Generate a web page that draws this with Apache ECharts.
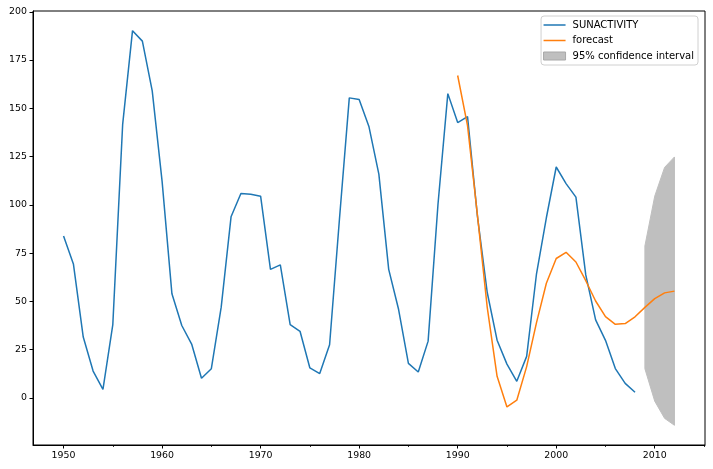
<!DOCTYPE html>
<html><head><meta charset="utf-8">
<script src="https://cdn.jsdelivr.net/npm/echarts@6/dist/echarts.min.js"></script>
<style>html,body{margin:0;padding:0;background:#fff}#c{width:713px;height:469px}</style>
</head><body><div id="c"></div>
<script>
const years = [1950,1951,1952,1953,1954,1955,1956,1957,1958,1959,1960,1961,1962,1963,1964,1965,1966,1967,1968,1969,1970,1971,1972,1973,1974,1975,1976,1977,1978,1979,1980,1981,1982,1983,1984,1985,1986,1987,1988,1989,1990,1991,1992,1993,1994,1995,1996,1997,1998,1999,2000,2001,2002,2003,2004,2005,2006,2007,2008];
const sunactivity = [83.9,69.4,31.5,13.9,4.4,38.0,141.7,190.2,184.8,159.0,112.3,53.9,37.5,27.9,10.2,15.1,47.0,93.8,105.9,105.5,104.5,66.6,68.9,38.0,34.5,15.5,12.6,27.5,92.5,155.4,154.6,140.4,115.9,66.6,45.9,17.9,13.4,29.4,100.2,157.6,142.6,145.7,94.3,54.6,29.9,17.5,8.6,21.5,64.3,93.3,119.6,111.0,104.0,63.7,40.4,29.8,15.2,7.5,2.9];
const forecastYears = [1990,1991,1992,1993,1994,1995,1996,1997,1998,1999,2000,2001,2002,2003,2004,2005,2006,2007,2008,2009,2010,2011,2012];
const forecast = [167.0,141.0,94.9,46.9,11.2,-4.7,-1.2,16.2,39.0,59.4,72.2,75.4,70.4,60.7,50.2,42.1,38.1,38.5,42.0,46.9,51.4,54.4,55.3];
const ciYears = [2009,2010,2011,2012];
const ciLower = [15.1,-1.7,-10.6,-14.2];
const ciUpper = [78.7,104.5,119.4,124.8];
const xTicks = [1950,1960,1970,1980,1990,2000,2010];
const xMinorTicks = [1955,1965,1975,1985,1995,2005,2015];
const yTicks = [0,25,50,75,100,125,150,175,200];

const font = 'DejaVu Sans';
const pair = (xs, ys) => xs.map((x, i) => [x, ys[i]]);
const xMin = 1946.9, xMax = 2015.1, yMin = -24.4, yMax = 200.4;
const lineIcon = 'path://M0,0 L0,0 M0,3.25 L22,3.25 L22,4.75 L0,4.75 Z M22,8 L22,8';

const chart = echarts.init(document.getElementById('c'), null, {renderer: 'canvas'});
chart.setOption({
  animation: false,
  backgroundColor: '#fff',
  grid: {left: 33, right: 8, top: 11, bottom: 24, show: true, borderColor: '#000', borderWidth: 1, backgroundColor: 'transparent'},
  legend: {
    orient: 'vertical', right: 15, top: 16,
    backgroundColor: '#fff', borderColor: '#d0d0d0', borderWidth: 1, borderRadius: 3,
    padding: [4, 4, 4, 2], itemGap: 5.5, itemWidth: 22, itemHeight: 8,
    textStyle: {fontFamily: font, fontSize: 10, color: '#000', padding: [0, 0, 0, 2]},
    data: [
      {name: 'SUNACTIVITY', icon: lineIcon, itemStyle: {color: '#1f77b4'}},
      {name: 'forecast', icon: lineIcon, itemStyle: {color: '#ff7f0e'}},
      {name: '95% confidence interval', icon: 'rect', itemStyle: {color: '#bfbfbf', borderColor: '#a8a8a8', borderWidth: 1}}
    ]
  },
  xAxis: [{
    type: 'value', min: xMin, max: xMax,
    splitLine: {show: false},
    axisLine: {show: true, onZero: false, lineStyle: {color: '#000', width: 1}},
    axisTick: {show: true, length: 3.5, customValues: xTicks, lineStyle: {color: '#000'}},
    axisLabel: {customValues: xTicks, margin: 6, fontFamily: font, fontSize: 9.4, color: '#000', formatter: v => String(v)}
  }, {
    type: 'value', min: xMin, max: xMax, position: 'bottom', gridIndex: 0,
    splitLine: {show: false},
    axisLine: {show: false, onZero: false},
    axisTick: {show: true, length: 2, customValues: xMinorTicks, lineStyle: {color: '#000', width: 0.8}},
    axisLabel: {show: false}
  }],
  yAxis: {
    type: 'value', min: yMin, max: yMax,
    splitLine: {show: false},
    axisLine: {show: true, onZero: false, lineStyle: {color: '#000', width: 1}},
    axisTick: {show: true, length: 3.5, customValues: yTicks, lineStyle: {color: '#000'}},
    axisLabel: {customValues: yTicks, margin: 6, fontFamily: font, fontSize: 9.4, color: '#000', formatter: v => String(v)}
  },
  series: [
    {name: '95% confidence interval', type: 'custom', z: 1,
      itemStyle: {color: '#bfbfbf'},
      data: ciYears.map((x, i) => [x, ciLower[i], ciUpper[i]]),
      encode: {x: 0, y: [1, 2]},
      renderItem: (params, api) => {
        if (params.dataIndex !== 0) return null;
        const top = ciYears.map((x, i) => api.coord([x, ciUpper[i]]));
        const bot = ciYears.map((x, i) => api.coord([x, ciLower[i]])).reverse();
        return {type: 'polygon', shape: {points: top.concat(bot)}, style: {fill: '#bfbfbf', stroke: '#bfbfbf', lineWidth: 1}};
      }
    },
    {name: 'SUNACTIVITY', type: 'line', data: pair(years, sunactivity), symbol: 'none', lineStyle: {color: '#1f77b4', width: 1.5}, itemStyle: {color: '#1f77b4'}, z: 3},
    {name: 'forecast', type: 'line', data: pair(forecastYears, forecast), symbol: 'none', lineStyle: {color: '#ff7f0e', width: 1.5}, itemStyle: {color: '#ff7f0e'}, z: 4}
  ]
});
</script></body></html>
